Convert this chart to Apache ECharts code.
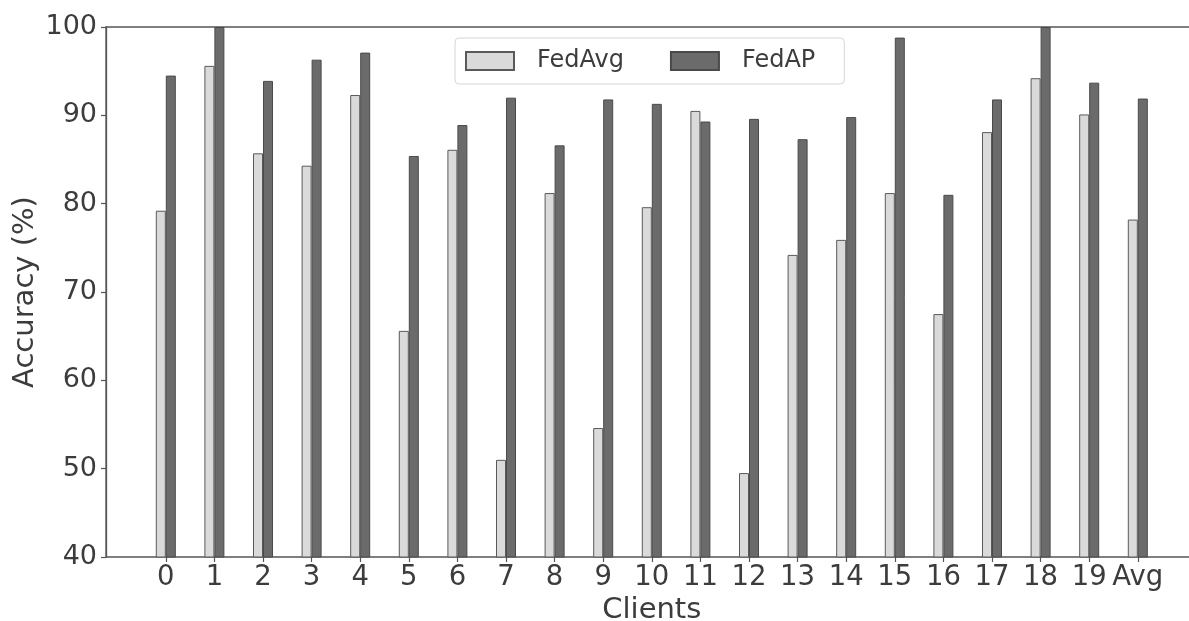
<!DOCTYPE html>
<html>
<head>
<meta charset="utf-8">
<title>FedAvg vs FedAP accuracy per client</title>
<script src="https://cdn.jsdelivr.net/npm/echarts@6/dist/echarts.min.js"></script>
<style>
  html, body { margin: 0; padding: 0; background: #fff; }
  #chart { width: 1189px; height: 621px; }
</style>
</head>
<body>
<div id="chart"></div>
<script>
// Client labels along the x axis
const clients = ['0', '1', '2', '3', '4', '5', '6', '7', '8', '9', '10',
                 '11', '12', '13', '14', '15', '16', '17', '18', '19', 'Avg'];

// Test accuracy (%) per client
const fedAvg = [79.2, 95.6, 85.7, 84.3, 92.3, 65.6, 86.1, 51.0, 81.2, 54.6, 79.6,
                90.5, 49.5, 74.2, 75.9, 81.2, 67.5, 88.1, 94.2, 90.1, 78.2];
const fedAP  = [94.5, 100.0, 93.9, 96.3, 97.1, 85.4, 88.9, 92.0, 86.6, 91.8, 91.3,
                89.3, 89.6, 87.3, 89.8, 98.8, 81.0, 91.8, 100.0, 93.7, 91.9];

// Y axis range and step
const yMin = 40, yMax = 100, yStep = 10;

const textColor = '#3c3c3c';
const lineColor = '#555';
const fontFamily = '"DejaVu Sans", sans-serif';

const chart = echarts.init(document.getElementById('chart'), null, { renderer: 'canvas' });

const plotTop = 27, plotBottom = 64;

chart.setOption({
  animation: false,
  backgroundColor: '#fff',
  textStyle: { fontFamily: fontFamily, color: textColor },
  grid: [
    // outer frame carrying the y axis
    { left: 106, right: -12, top: plotTop, bottom: plotBottom, outerBoundsMode: 'none',
      containLabel: false,
      show: true, borderColor: lineColor, borderWidth: 1.3, backgroundColor: 'transparent' },
    // band area for the grouped bars
    { left: 141.5, width: 1020.6, top: plotTop, bottom: plotBottom, outerBoundsMode: 'none',
      containLabel: false }
  ],
  legend: {
    left: 455,
    top: 38,
    icon: 'rect',
    itemWidth: 48,
    itemHeight: 18,
    itemGap: 46,
    padding: [11, 29, 11, 10],
    borderColor: '#d6d6d6',
    borderWidth: 1,
    borderRadius: 4,
    backgroundColor: 'rgba(255,255,255,0.85)',
    textStyle: { fontSize: 24, color: textColor, fontFamily: fontFamily,
                 padding: [0, 0, 0, 18], lineHeight: 24 },
    data: ['FedAvg', 'FedAP']
  },
  xAxis: [
    { gridIndex: 0, type: 'value', min: 0, max: 1, show: false },
    {
      gridIndex: 1,
      type: 'category',
      data: clients,
      boundaryGap: true,
      name: 'Clients',
      nameLocation: 'middle',
      nameGap: 39,
      nameMoveOverlap: false,
      nameTextStyle: { fontSize: 29, color: textColor, fontFamily: fontFamily },
      axisLine: { show: false },
      axisTick: { show: true, alignWithLabel: true, length: 5, inside: false,
                  lineStyle: { color: lineColor, width: 1.2 } },
      axisLabel: { fontSize: 27.5, color: textColor, margin: 7, interval: 0, fontFamily: fontFamily },
      splitLine: { show: false }
    }
  ],
  yAxis: [
    {
      gridIndex: 0,
      type: 'value',
      min: yMin,
      max: yMax,
      interval: yStep,
      name: 'Accuracy (%)',
      nameLocation: 'middle',
      nameGap: 66,
      nameMoveOverlap: false,
      nameTextStyle: { fontSize: 29, color: textColor, fontFamily: fontFamily },
      axisLine: { show: true, lineStyle: { color: lineColor, width: 1.3 } },
      axisTick: { show: true, length: 5, inside: false, lineStyle: { color: lineColor, width: 1.2 } },
      axisLabel: { fontSize: 27, color: textColor, margin: 9, fontFamily: fontFamily },
      splitLine: { show: false }
    },
    { gridIndex: 1, type: 'value', min: yMin, max: yMax, show: false }
  ],
  series: [
    {
      name: 'FedAvg',
      type: 'bar',
      xAxisIndex: 1,
      yAxisIndex: 1,
      data: fedAvg,
      barWidth: 10,
      barGap: '0%',
      itemStyle: { color: '#dadada', borderColor: '#5a5a5a', borderWidth: 1 }
    },
    {
      name: 'FedAP',
      type: 'bar',
      xAxisIndex: 1,
      yAxisIndex: 1,
      data: fedAP,
      barWidth: 10,
      barGap: '0%',
      itemStyle: { color: '#6b6b6b', borderColor: '#4a4a4a', borderWidth: 1 }
    }
  ]
});
</script>
</body>
</html>
